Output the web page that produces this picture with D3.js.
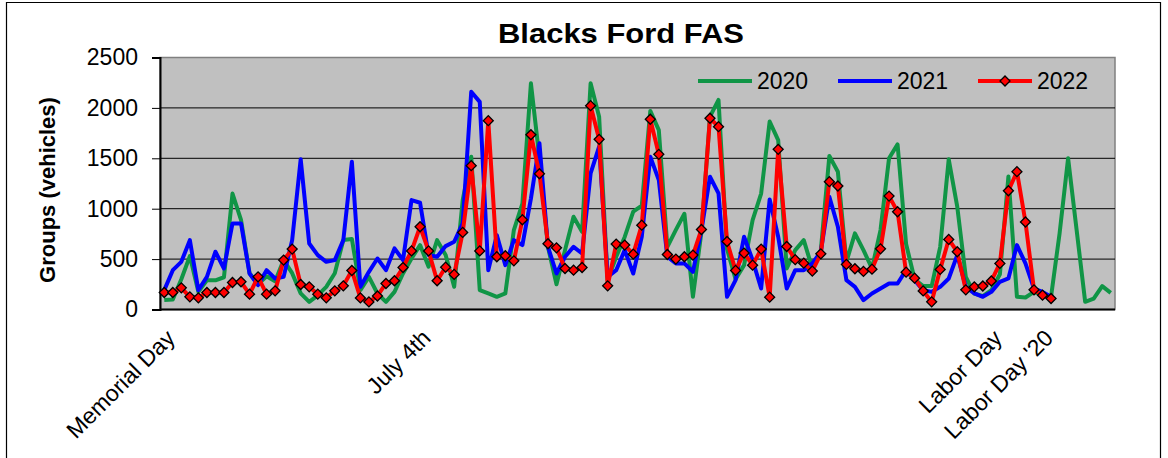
<!DOCTYPE html>
<html><head><meta charset="utf-8">
<script src="https://cdn.jsdelivr.net/npm/d3@7"></script>
<style>body{margin:0;background:#fff;} svg{display:block;} text{font-family:"Liberation Sans",Arial,sans-serif;fill:#000;}</style>
</head><body><svg id="c" width="1168" height="458"></svg>
<script>
const title = "Blacks Ford FAS";
const yTitle = "Groups (vehicles)";
const seriesNames = ["2020", "2021", "2022"];
const seriesColors = ["#109546", "#0000ff", "#ff0000"];
const nCategories = 112;
const labelIndex = [1, 31, 98, 104];
const labelText = ["Memorial Day", "July 4th", "Labor Day", "Labor Day '20"];
const yTicks = [0, 500, 1000, 1500, 2000, 2500];

const values2020 = [95,100,300,530,175,290,290,320,1150,890,360,250,330,280,490,360,160,76,140,225,
  360,690,700,192,324,159,76,175,357,506,639,424,688,540,225,1085,1516,192,159,126,
  159,788,1050,2244,1500,620,250,589,920,771,2244,1913,291,523,720,970,1030,1970,1780,622,
  790,950,126,771,1913,2079,600,300,440,887,1150,1864,1681,407,589,688,407,589,1523,1367,
  473,755,589,407,788,1500,1638,650,300,232,232,622,1490,1020,324,159,132,192,350,1320,
  126,119,175,142,126,755,1500,788,76,109,232,165];
const values2021 = [192,390,473,688,192,324,573,407,854,854,357,242,390,308,324,688,1490,655,540,473,
  490,688,1466,225,374,506,390,606,490,1086,1059,540,523,629,672,854,2160,2060,390,738,
  440,688,639,1100,1650,622,357,523,622,556,1350,1615,324,390,589,357,722,1516,1284,523,
  457,457,374,788,1317,1152,126,291,722,490,208,1092,722,208,390,390,457,573,1119,821,
  291,225,93,159,208,258,258,390,291,192,175,225,308,540,225,159,126,175,275,308,
  639,457,208,175,126];
const values2022 = [169,169,215,126,116,169,169,169,268,275,152,324,152,185,490,599,248,225,152,116,
  185,235,387,115,75,134,258,285,417,581,821,581,285,420,348,765,1427,581,1873,523,
  533,483,890,1734,1347,652,612,407,390,417,2022,1688,235,649,639,549,837,1887,1539,546,
  500,523,540,794,1897,1814,675,388,560,440,599,122,1589,625,494,460,381,552,1268,1225,
  447,404,378,400,602,1125,970,370,311,184,76,398,695,573,195,225,233,283,457,1178,
  1367,868,195,142,109];

const svg = d3.select("#c");
const plot = {left: 160, right: 1115, top: 57.5, bottom: 309.5};

const x = d3.scalePoint().domain(d3.range(nCategories)).range([plot.left, plot.right]).padding(0.5);
const y = d3.scaleLinear().domain([0, 2500]).range([plot.bottom, plot.top]);

// outer frame
svg.append("path").attr("d", `M6.5,458 V2.5 H1160.5 V458`).attr("fill", "none").attr("stroke", "#000").attr("stroke-width", 1.2);

// plot background
svg.append("rect").attr("x", plot.left).attr("y", plot.top).attr("width", plot.right - plot.left).attr("height", plot.bottom - plot.top)
  .attr("fill", "#c0c0c0").attr("stroke", "#808080").attr("stroke-width", 1.5);

// gridlines
svg.append("g").selectAll("line").data(yTicks.filter(d => d > 0 && d < 2500)).join("line")
  .attr("x1", plot.left).attr("x2", plot.right).attr("y1", d => y(d)).attr("y2", d => y(d))
  .attr("stroke", "#000").attr("stroke-width", 1);

// y axis
const yAxis = d3.axisLeft(y).tickValues(yTicks).tickSize(8).tickPadding(14).tickFormat(d3.format("d"));
const gy = svg.append("g").attr("transform", `translate(${plot.left},0)`).call(yAxis);
gy.select(".domain").attr("stroke", "#000").attr("stroke-width", 2);
gy.selectAll(".tick line").attr("stroke", "#000").attr("stroke-width", 1);
gy.selectAll(".tick text").style("font-size", "23px").style("font-family", "Liberation Sans, Arial, sans-serif").attr("fill", "#000");

// x axis
const xAxis = d3.axisBottom(x).tickValues(labelIndex).tickSize(0).tickFormat((d) => labelText[labelIndex.indexOf(d)]);
const gx = svg.append("g").attr("transform", `translate(0,${plot.bottom})`).call(xAxis);
gx.select(".domain").attr("stroke", "#000").attr("stroke-width", 2).attr("d", `M${plot.left},0H${plot.right}`);
gx.selectAll(".tick text").style("font-size", "23px").style("font-family", "Liberation Sans, Arial, sans-serif").attr("fill", "#000")
  .attr("text-anchor", "end").attr("dy", null).attr("y", 0)
  .attr("transform", "translate(3,30) rotate(-45)");

// series lines
const line = d3.line().x((d, i) => x(i)).y(d => y(d));
const allSeries = [values2020, values2021, values2022];
allSeries.forEach((vals, k) => {
  svg.append("path").datum(vals).attr("d", line).attr("fill", "none")
    .attr("stroke", seriesColors[k]).attr("stroke-width", 4).attr("stroke-linejoin", "round");
});

// markers for 2022
const diamond = d3.symbol().type(d3.symbolSquare).size(50);
svg.append("g").selectAll("path").data(values2022).join("path")
  .attr("d", diamond)
  .attr("transform", (d, i) => `translate(${x(i)},${y(d)}) rotate(45)`)
  .attr("fill", "#ff0000").attr("stroke", "#000").attr("stroke-width", 1.3);

// title
svg.append("text").attr("x", 621).attr("y", 43).attr("text-anchor", "middle")
  .attr("textLength", 246).attr("lengthAdjust", "spacingAndGlyphs")
  .style("font-size", "27px").style("font-weight", "bold").text(title);

// y title
svg.append("text").attr("transform", "translate(55,190) rotate(-90)").attr("text-anchor", "middle")
  .style("font-size", "22px").style("font-weight", "bold").text(yTitle);

// legend
const legX = [698, 838, 978];
const lg = svg.append("g");
seriesNames.forEach((name, k) => {
  lg.append("line").attr("x1", legX[k]).attr("x2", legX[k] + 54).attr("y1", 81).attr("y2", 81)
    .attr("stroke", seriesColors[k]).attr("stroke-width", 4);
  if (k === 2) {
    lg.append("path").attr("d", diamond).attr("transform", `translate(${legX[k] + 27},81) rotate(45)`)
      .attr("fill", "#ff0000").attr("stroke", "#000").attr("stroke-width", 1.3);
  }
  lg.append("text").attr("x", legX[k] + 59).attr("y", 89).style("font-size", "23px").text(name);
});
</script></body></html>
